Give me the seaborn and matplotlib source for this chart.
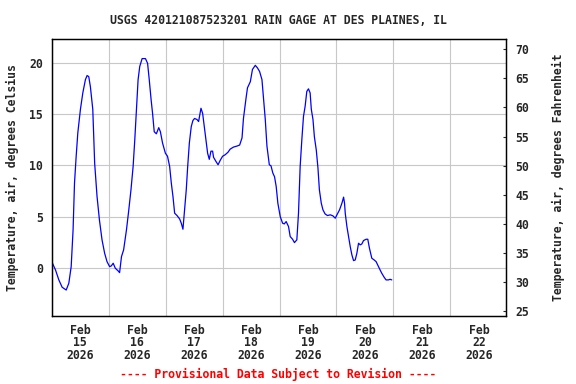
import numpy as np
import pandas as pd
import seaborn as sns
import matplotlib
matplotlib.use("Agg")
import matplotlib.pyplot as plt
import matplotlib.dates as mdates

# Horas desde 2026-02-15 00:00 y temperatura del aire (grados C)
horas = [0.2, 1.6, 3.0, 4.4, 6.1, 7.2, 8.2, 9.0, 9.6, 10.3, 11.0, 12.1, 13.1, 14.2,
         14.9, 15.6, 16.3, 17.3, 18.1, 19.1, 20.1, 21.2, 22.3, 23.3, 24.4, 25.1, 25.9,
         26.8, 28.0, 28.6, 29.4, 30.3, 31.5, 32.4, 33.4, 34.3, 35.0, 35.7, 36.4, 37.1,
         38.1, 39.5, 40.4, 41.1, 41.9, 42.5, 43.2, 44.1, 45.1, 45.8, 46.7, 47.9, 48.8,
         49.7, 50.4, 51.1, 51.8, 52.8, 53.9, 54.6, 55.3, 56.0, 56.7, 57.3, 58.0, 58.8,
         59.5, 60.2, 61.2, 61.9, 62.3, 62.9, 63.6, 64.3, 65.0, 65.7, 66.4, 67.1, 67.8,
         68.2, 69.2, 70.1, 71.0, 72.0, 73.1, 74.3, 75.2, 76.6, 78.1, 79.2, 80.2, 80.8,
         81.9, 82.5, 83.7, 84.6, 85.8, 86.7, 87.6, 88.6, 89.3, 90.0, 90.7, 91.7, 92.4,
         93.2, 93.9, 94.6, 95.3, 96.3, 97.3, 98.0, 98.8, 99.8, 100.5, 101.5, 102.3,
         103.3, 104.0, 104.7, 105.4, 106.1, 106.8, 107.5, 108.2, 108.9, 109.4, 110.1,
         110.7, 111.5, 112.2, 112.8, 113.6, 114.3, 115.2, 116.2, 117.4, 118.5, 119.5,
         120.2, 121.3, 122.3, 123.0, 123.4, 123.7, 124.4, 125.1, 125.8, 126.5, 127.2,
         127.9, 128.6, 129.3, 130.0, 130.7, 131.4, 132.5, 133.2, 133.9, 134.9, 135.9,
         136.7, 137.7, 138.4, 139.1, 140.1, 140.9, 141.9, 142.6, 143.3]
temp_c = [0.49, -0.23, -1.2, -1.92, -2.19, -1.53, 0.1, 3.7, 8.27, 10.9, 13.2, 15.5, 17.1, 18.4,
          18.8, 18.7, 17.7, 15.5, 10.2, 6.96, 4.68, 2.72, 1.41, 0.59, 0.1, 0.17, 0.43,
          -0.06, -0.32, -0.49, 1.08, 1.74, 3.7, 5.49, 7.62, 9.9, 12.5, 15.5, 18.4, 19.7,
          20.46, 20.46, 20.0, 18.4, 16.4, 15.1, 13.3, 13.1, 13.7, 13.3, 12.2, 11.2, 10.9,
          9.9, 8.27, 6.96, 5.33, 5.1, 4.77, 4.35, 3.76, 5.66, 7.62, 9.9, 12.2, 13.8,
          14.4, 14.6, 14.5, 14.3, 14.8, 15.6, 15.1, 13.8, 12.5, 11.2, 10.6, 11.4, 11.4,
          10.8, 10.4, 10.07, 10.5, 10.9, 11.05, 11.3, 11.6, 11.8, 11.9, 12.0, 12.7, 14.6,
          16.6, 17.6, 18.2, 19.4, 19.8, 19.55, 19.2, 18.4, 16.4, 14.5, 11.9, 10.07, 9.97,
          9.25, 8.9, 7.94, 6.31, 5.0, 4.35, 4.28, 4.51, 4.02, 3.04, 2.78, 2.45,
          2.72, 5.33, 9.9, 12.5, 14.8, 15.8, 17.25, 17.5, 17.1, 15.5, 14.5,
          12.8, 11.5, 9.75, 7.62, 6.31, 5.66, 5.26, 5.1, 5.17, 5.07, 4.84,
          5.17, 5.66, 6.31, 6.9, 6.31, 5.33, 4.02, 3.04, 2.06, 1.25, 0.69,
          0.75, 1.41, 2.39, 2.23, 2.32, 2.65, 2.78, 2.78, 1.9, 0.92, 0.75,
          0.59, 0.1, -0.23, -0.55, -0.94, -1.2, -1.2, -1.14, -1.2]

inicio = pd.Timestamp("2026-02-15 00:00")
fin = pd.Timestamp("2026-02-22 23:20")
df = pd.DataFrame({"fecha": inicio + pd.to_timedelta(horas, unit="h"), "temp": temp_c})

titulo = "USGS 420121087523201 RAIN GAGE AT DES PLAINES, IL"
nota = "---- Provisional Data Subject to Revision ----"

sns.set_style("white")
plt.rcParams["font.family"] = ["DejaVu Sans Mono"]
plt.rcParams["font.weight"] = "bold"
plt.rcParams["font.size"] = 8.3

fig = plt.figure(figsize=(5.76, 3.84), dpi=100)
ax = fig.add_axes([0.0898, 0.177, 0.7882, 0.7207])

sns.lineplot(data=df, x="fecha", y="temp", ax=ax, color="#0000FF", linewidth=0.9)

ax.set_xlim(inicio, fin)
ax.set_ylim(-4.735, 22.35)
ax.set_yticks([0, 5, 10, 15, 20])
ax.xaxis.set_major_locator(mdates.HourLocator(byhour=12))
ax.xaxis.set_major_formatter(mdates.DateFormatter("%b\n%d\n%Y"))
ax.xaxis.set_minor_locator(mdates.DayLocator())
ax.tick_params(axis="x", which="both", length=0, pad=5.5, labelsize=8.3)
ax.tick_params(axis="y", length=0, pad=6.5, labelsize=8.3)
fig.canvas.draw()
for t in ax.get_xticklabels():
    t.set_linespacing(0.98)
ax.grid(True, axis="y", color="#C8C8C8", linewidth=0.8)
ax.grid(True, axis="x", which="minor", color="#C8C8C8", linewidth=0.8)
ax.grid(False, axis="x", which="major")
ax.set_xlabel("")
ax.set_ylabel("Temperature, air, degrees Celsius", labelpad=7.5, fontweight="bold")
ax.set_title(titulo, pad=11, fontweight="bold", fontsize=8.3)
for s in ax.spines.values():
    s.set_color("black")
    s.set_linewidth(0.9)

ax2 = ax.twinx()
ax2.set_ylim(24.14, 71.72)
ax2.set_yticks(np.arange(25, 71, 5))
ax2.tick_params(axis="y", direction="in", length=2, width=0.8, pad=7.2, labelsize=8.3)
ax2.set_ylabel("Temperature, air, degrees Fahrenheit", labelpad=16, fontweight="bold")
for s in ax2.spines.values():
    s.set_color("black")
    s.set_linewidth(0.9)

fig.text(0.482, 0.025, nota, color="red", ha="center", va="center",
         fontweight="bold", fontsize=8.3)

fig.savefig("out.png", dpi=100)
